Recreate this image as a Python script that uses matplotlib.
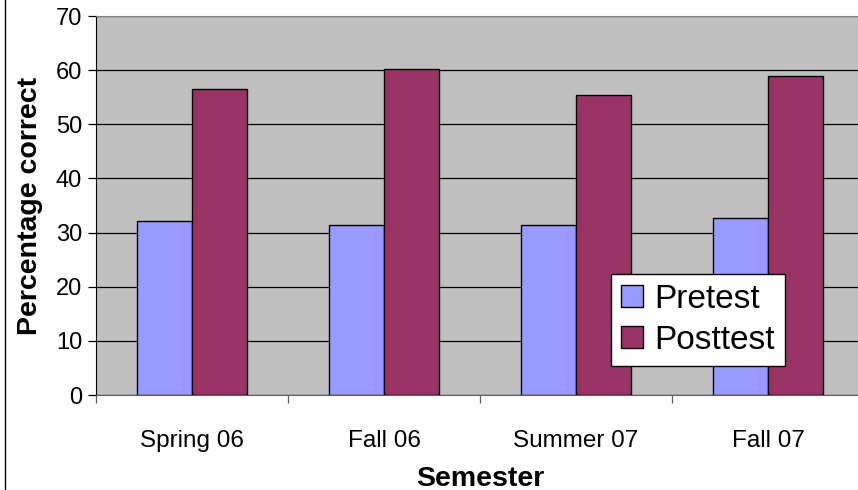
import matplotlib
matplotlib.use("Agg")
import matplotlib.pyplot as plt
import numpy as np
from matplotlib.lines import Line2D

semesters = ["Spring 06", "Fall 06", "Summer 07", "Fall 07"]
pretest = [32.2, 31.4, 31.4, 32.7]
posttest = [56.5, 60.3, 55.5, 58.9]
y_ticks = [0, 10, 20, 30, 40, 50, 60, 70]

plt.rcParams["font.family"] = ["Liberation Sans", "DejaVu Sans"]

W, H = 858, 490
fig = plt.figure(figsize=(W / 100, H / 100), dpi=100)
ax = fig.add_axes([96 / W, 1 - 395 / H, 768 / W, 379 / H])
ax.set_facecolor("#C0C0C0")

x = np.arange(len(semesters))
bw = 0.286
ax.bar(x - bw / 2, pretest, bw, color="#9999FF", edgecolor="black", linewidth=1.0,
       label="Pretest", zorder=3)
ax.bar(x + bw / 2, posttest, bw, color="#993366", edgecolor="black", linewidth=1.0,
       label="Posttest", zorder=3)

ax.set_xlim(-0.5, len(semesters) - 0.5)
ax.set_ylim(0, 70)
ax.set_yticks(y_ticks)
ax.yaxis.grid(True, color="black", linewidth=0.9, zorder=1)
ax.set_axisbelow(True)

ax.set_xticks(x)
ax.set_xticklabels(semesters, fontsize=17.5)
ax.set_xticks(np.arange(len(semesters) + 1) - 0.5, minor=True)
ax.tick_params(axis="x", which="major", length=0, pad=25)
ax.tick_params(axis="x", which="minor", length=6, width=0.9, color="#606060", direction="out")
ax.tick_params(axis="y", length=6, width=0.9, pad=4, labelsize=17)

ax.spines["top"].set_color("#808080")
ax.spines["right"].set_visible(False)
ax.spines["bottom"].set_color("#606060")
ax.spines["left"].set_color("black")

ax.set_ylabel("Percentage correct", fontsize=20.5, fontweight="bold", labelpad=9)
ax.set_xlabel("Semester", fontsize=20.5, fontweight="bold", labelpad=10)

leg = ax.legend(loc="upper left", bbox_to_anchor=(611 / W, 1 - 274 / H),
                bbox_transform=fig.transFigure, borderaxespad=0, fontsize=24,
                frameon=True, fancybox=False, edgecolor="black", framealpha=1,
                handlelength=0.65, handleheight=0.65, handletextpad=0.35,
                labelspacing=0.3, borderpad=0.3)
leg.get_frame().set_linewidth(1.0)

fig.add_artist(Line2D([4.5 / W, 4.5 / W], [0, 1], transform=fig.transFigure,
                      color="black", linewidth=1.0))

fig.savefig("out.png", dpi=100)
